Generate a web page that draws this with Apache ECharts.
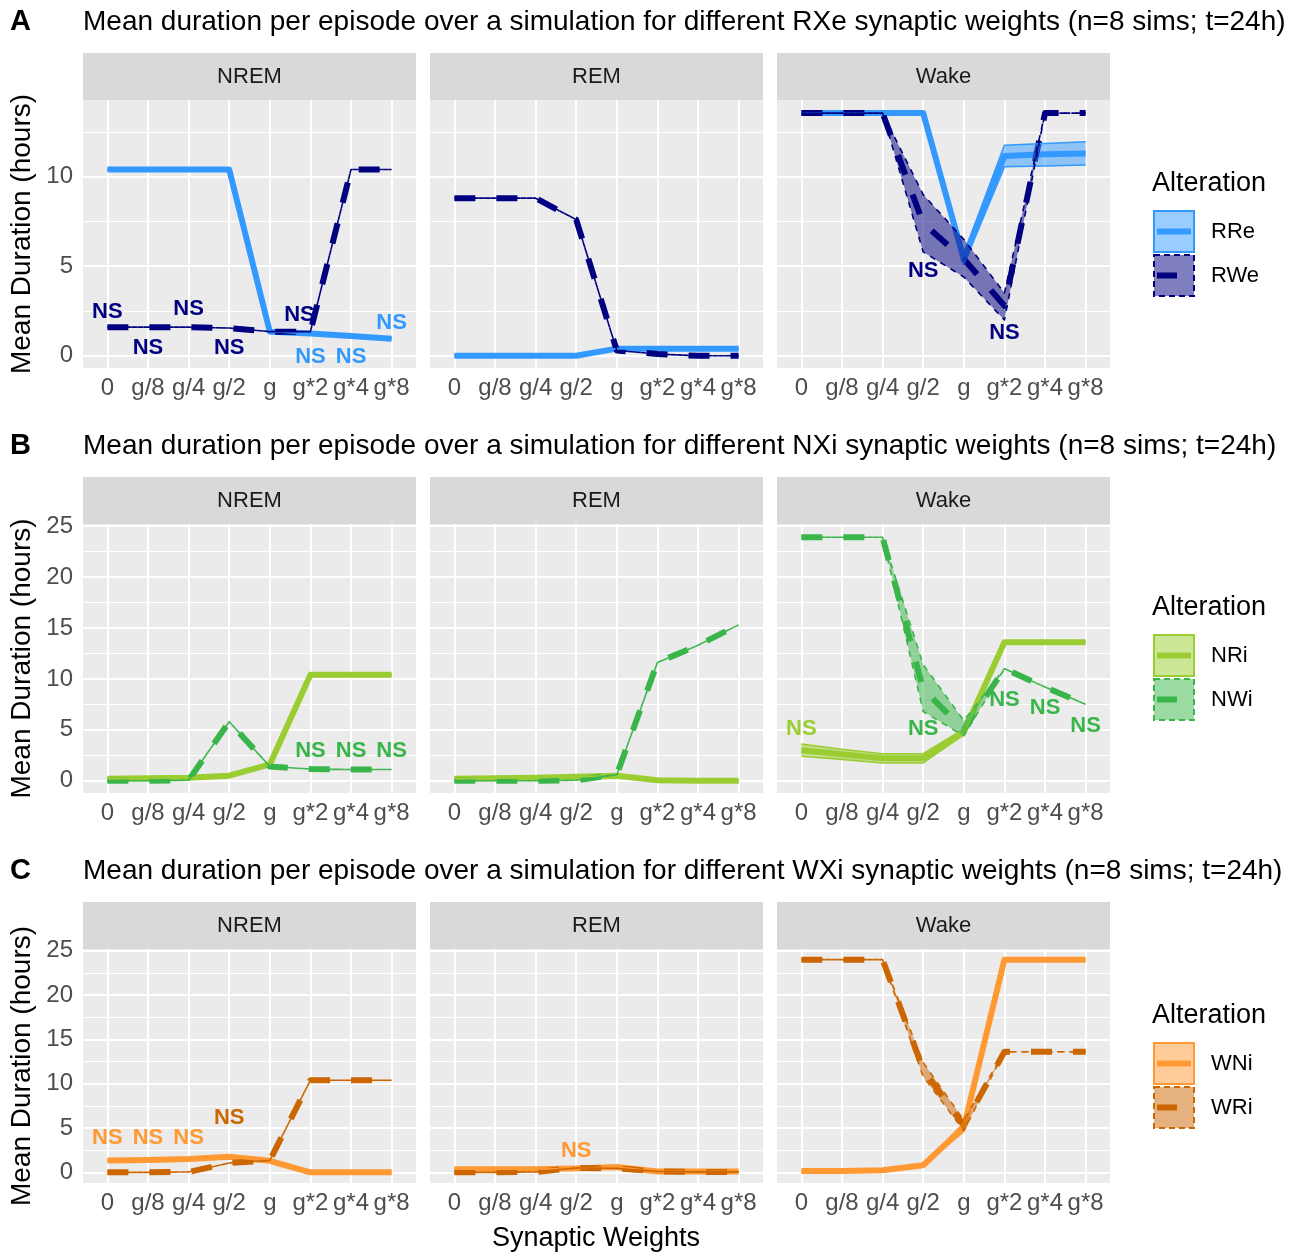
<!DOCTYPE html>
<html><head><meta charset="utf-8">
<script src="https://cdn.jsdelivr.net/npm/echarts@6/dist/echarts.min.js"></script>
<style>html,body{margin:0;padding:0;background:#fff}#c{width:1302px;height:1256px}</style>
</head><body><div id="c"></div>
<script>
// ---------- data ----------
const categories = ['0','g/8','g/4','g/2','g','g*2','g*4','g*8'];
const facets = ['NREM','REM','Wake'];
const yTicksA = [0,5,10];
const yMinorA = [2.5,7.5,12.5];
const yTicksBC = [0,5,10,15,20,25];
const yMinorBC = [2.5,7.5,12.5,17.5,22.5];

// Row A: RXe
const rxeNremRRe = [10.4,10.4,10.4,10.4,1.35,1.25,1.1,0.95];
const rxeNremRWe = [1.6,1.6,1.6,1.55,1.35,1.35,10.4,10.4];
const rxeRemRRe  = [0.0,0.0,0.0,0.0,0.4,0.4,0.4,0.4];
const rxeRemRWe  = [8.8,8.8,8.8,7.6,0.3,0.1,0.0,0.0];
const rxeWakeRRe   = [13.55,13.55,13.55,13.55,5.4,11.15,11.25,11.3];
const rxeWakeRReLo = [13.55,13.55,13.55,13.55,5.1,10.55,10.6,10.65];
const rxeWakeRReHi = [13.55,13.55,13.55,13.55,5.7,11.75,11.85,11.95];
const rxeWakeRWe   = [13.55,13.55,13.55,7.4,5.4,2.8,13.55,13.55];
const rxeWakeRWeLo = [13.55,13.55,13.55,5.8,4.4,2.0,13.55,13.55];
const rxeWakeRWeHi = [13.55,13.55,13.55,9.0,6.5,3.5,13.55,13.55];

// Row B: NXi
const nxiNremNRi = [0.2,0.25,0.3,0.5,1.6,10.4,10.4,10.4];
const nxiNremNWi = [0.0,0.0,0.05,5.8,1.4,1.15,1.1,1.1];
const nxiRemNRi  = [0.2,0.25,0.3,0.4,0.5,0.05,0.0,0.0];
const nxiRemNWi  = [0.0,0.0,0.0,0.05,0.6,11.6,13.3,15.3];
const nxiWakeNRi   = [3.0,2.6,2.2,2.2,4.8,13.6,13.6,13.6];
const nxiWakeNRiLo = [2.4,2.1,1.75,1.75,4.5,13.6,13.6,13.6];
const nxiWakeNRiHi = [3.6,3.1,2.65,2.65,5.1,13.6,13.6,13.6];
const nxiWakeNWi   = [23.9,23.9,23.9,9.0,5.0,11.0,9.2,7.5];
const nxiWakeNWiLo = [23.9,23.9,23.9,6.8,4.4,11.0,9.2,7.5];
const nxiWakeNWiHi = [23.9,23.9,23.9,11.4,5.9,11.0,9.2,7.5];

// Row C: WXi
const wxiNremWNi = [1.35,1.4,1.5,1.75,1.3,0.0,0.0,0.0];
const wxiNremWRi = [0.0,0.0,0.05,1.05,1.35,10.4,10.4,10.4];
const wxiRemWNi  = [0.35,0.35,0.35,0.45,0.6,0.1,0.1,0.1];
const wxiRemWRi  = [0.0,0.0,0.05,0.5,0.45,0.1,0.05,0.05];
const wxiWakeWNi   = [0.15,0.15,0.25,0.8,5.1,24.0,24.0,24.0];
const wxiWakeWNiLo = [0.15,0.15,0.25,0.8,4.6,24.0,24.0,24.0];
const wxiWakeWNiHi = [0.15,0.15,0.25,0.8,5.6,24.0,24.0,24.0];
const wxiWakeWRi   = [24.0,24.0,24.0,11.6,5.3,13.6,13.6,13.6];
const wxiWakeWRiLo = [24.0,24.0,24.0,10.8,4.7,13.6,13.6,13.6];
const wxiWakeWRiHi = [24.0,24.0,24.0,12.4,5.9,13.6,13.6,13.6];

// "NS" annotations: [x index, y value]
const nsRxeNremRWe = [[0,2.46],[1,0.45],[2,2.63],[3,0.45],[4.73,2.29]];
const nsRxeNremRRe = [[5,-0.06],[6,-0.06],[7,1.84]];
const nsRxeWakeRWe = [[3,4.75],[5,1.3]];
const nsNxiNremNWi = [[5,2.95],[6,2.95],[7,2.95]];
const nsNxiWakeNRi = [[0,5.1]];
const nsNxiWakeNWi = [[3,5.1],[5,7.9],[6,7.1],[7,5.4]];
const nsWxiNremWNi = [[0,3.9],[1,3.9],[2,3.9]];
const nsWxiNremWRi = [[3,6.1]];
const nsWxiRemWNi  = [[3,2.45]];

// ---------- layout / style ----------
const FONT = "'Liberation Sans', Arial, Helvetica, sans-serif";
const colLeft = [83, 430, 777];
const panelW = 333;
const rowTop = [100, 524, 949];
const rowH = [268, 269, 234];
const stripH = 47;

const rows = [
  { letter:'A', title:'Mean duration per episode over a simulation for different RXe synaptic weights (n=8 sims; t=24h)',
    names:['RRe','RWe'], colors:['#3399FF','#000080'], yr:[-0.68,14.28], ticks:yTicksA, minor:yMinorA,
    panels:[
      {s:[{m:rxeNremRRe},{m:rxeNremRWe}], ns:[[nsRxeNremRWe,1],[nsRxeNremRRe,0]]},
      {s:[{m:rxeRemRRe},{m:rxeRemRWe}], ns:[]},
      {s:[{m:rxeWakeRRe,lo:rxeWakeRReLo,hi:rxeWakeRReHi},{m:rxeWakeRWe,lo:rxeWakeRWeLo,hi:rxeWakeRWeHi}], ns:[[nsRxeWakeRWe,1]]}
    ], legendY:184 },
  { letter:'B', title:'Mean duration per episode over a simulation for different NXi synaptic weights (n=8 sims; t=24h)',
    names:['NRi','NWi'], colors:['#9ACD32','#39B54A'], yr:[-1.2,25.2], ticks:yTicksBC, minor:yMinorBC,
    panels:[
      {s:[{m:nxiNremNRi},{m:nxiNremNWi}], ns:[[nsNxiNremNWi,1]]},
      {s:[{m:nxiRemNRi},{m:nxiRemNWi}], ns:[]},
      {s:[{m:nxiWakeNRi,lo:nxiWakeNRiLo,hi:nxiWakeNRiHi},{m:nxiWakeNWi,lo:nxiWakeNWiLo,hi:nxiWakeNWiHi}], ns:[[nsNxiWakeNRi,0],[nsNxiWakeNWi,1]]}
    ], legendY:608 },
  { letter:'C', title:'Mean duration per episode over a simulation for different WXi synaptic weights (n=8 sims; t=24h)',
    names:['WNi','WRi'], colors:['#FF9933','#CC6600'], yr:[-1.2,25.2], ticks:yTicksBC, minor:yMinorBC,
    panels:[
      {s:[{m:wxiNremWNi},{m:wxiNremWRi}], ns:[[nsWxiNremWNi,0],[nsWxiNremWRi,1]]},
      {s:[{m:wxiRemWNi},{m:wxiRemWRi}], ns:[[nsWxiRemWNi,0]]},
      {s:[{m:wxiWakeWNi,lo:wxiWakeWNiLo,hi:wxiWakeWNiHi},{m:wxiWakeWRi,lo:wxiWakeWRiLo,hi:wxiWakeWRiHi}], ns:[]}
    ], legendY:1016 }
];

function rgba(hex, a){
  const n = parseInt(hex.slice(1),16);
  return 'rgba('+((n>>16)&255)+','+((n>>8)&255)+','+(n&255)+','+a+')';
}
const xIdx = categories.map((c,i)=>i);
const pairs = arr => arr.map((v,i)=>[i,v]);

// ribbon drawn through the axes' coordinate mapping (api.coord)
function ribbonRender(col, dashed){
  return function(params, api){
    if (params.dataIndexInside !== 0) return null;
    const n = params.dataInsideLength || categories.length;
    const up = [], dn = [];
    for (let i = 0; i < n; i++){
      const x = api.value(0, i), lo = api.value(1, i), hi = api.value(2, i);
      up.push(api.coord([x, hi]));
      dn.push(api.coord([x, lo]));
    }
    const poly = up.concat(dn.slice().reverse());
    return {type:'group', children:[
      {type:'polygon', shape:{points:poly}, style:{fill:rgba(col,0.5), stroke:null}},
      {type:'polyline', shape:{points:up}, style:{stroke:col, lineWidth:1.6, fill:null, lineDash: dashed?[6,6]:null, lineDashOffset:0, lineJoin:'round'}},
      {type:'polyline', shape:{points:dn}, style:{stroke:col, lineWidth:1.6, fill:null, lineDash: dashed?[6,6]:null, lineDashOffset:6, lineJoin:'round'}}
    ]};
  };
}

const grids=[], xAxes=[], yAxes=[], series=[], graphics=[];
let g = 0;
rows.forEach((row, r) => {
  const top = rowTop[r], h = rowH[r];
  graphics.push({type:'text', x:10, y:top-78, style:{text:row.letter, fontSize:29, fontWeight:'bold', fontFamily:FONT, fill:'#000', textAlign:'left', textVerticalAlign:'middle', align:'left', verticalAlign:'middle'}});
  graphics.push({type:'text', x:83, y:top-78, style:{text:row.title, fontSize:28, fontFamily:FONT, fill:'#000', textAlign:'left', textVerticalAlign:'middle', align:'left', verticalAlign:'middle'}});
  graphics.push({type:'text', x:22, y:top+h/2, rotation:Math.PI/2, style:{text:'Mean Duration (hours)', fontSize:28, fontFamily:FONT, fill:'#000', textAlign:'center', textVerticalAlign:'middle', align:'center', verticalAlign:'middle'}});
  const ly = row.legendY;
  graphics.push({type:'text', x:1152, y:ly, style:{text:'Alteration', fontSize:27, fontFamily:FONT, fill:'#000', textAlign:'left', textVerticalAlign:'middle', align:'left', verticalAlign:'middle'}});
  [0,1].forEach(k => {
    const by = ly + 27 + k*44;
    const col = row.colors[k];
    graphics.push({type:'rect', shape:{x:1154, y:by, width:40, height:41}, style:{fill:rgba(col,0.5), stroke:col, lineWidth:2, lineDash: k? [6,4] : null}});
    graphics.push({type:'line', shape:{x1:1157, y1:by+20.5, x2: k? 1177 : 1191, y2:by+20.5}, style:{stroke:col, lineWidth:6}});
    graphics.push({type:'text', x:1211, y:by+21, style:{text:row.names[k], fontSize:22, fontFamily:FONT, fill:'#000', textAlign:'left', textVerticalAlign:'middle', align:'left', verticalAlign:'middle'}});
  });

  row.panels.forEach((p, c) => {
    const left = colLeft[c];
    graphics.push({type:'rect', shape:{x:left, y:top-stripH, width:panelW, height:stripH}, style:{fill:'#D9D9D9'}});
    graphics.push({type:'text', x:left+panelW/2, y:top-stripH/2, style:{text:facets[c], fontSize:22, fontFamily:FONT, fill:'#1A1A1A', textAlign:'center', textVerticalAlign:'middle', align:'center', verticalAlign:'middle'}});

    grids.push({left:left, top:top, width:panelW, height:h, show:true, backgroundColor:'#EBEBEB', borderWidth:0, containLabel:false, outerBoundsMode:'none'});
    xAxes.push({gridIndex:g, type:'value', min:-0.6, max:7.6,
      axisLine:{show:false}, splitLine:{show:false},
      axisTick:{show:true, customValues:xIdx, length:5, lineStyle:{color:'#333333', width:2}},
      axisLabel:{show:true, customValues:xIdx, formatter:v=>categories[Math.round(v)], color:'#4D4D4D', fontSize:24, fontFamily:FONT, margin:8}});
    yAxes.push({gridIndex:g, type:'value', min:row.yr[0], max:row.yr[1],
      axisLine:{show:false}, splitLine:{show:false},
      axisTick:{show:c===0, customValues:row.ticks, length:5, lineStyle:{color:'#333333', width:2}},
      axisLabel:{show:c===0, customValues:row.ticks, color:'#4D4D4D', fontSize:24, fontFamily:FONT, margin:10}});

    const ml = [];
    row.minor.forEach(v => ml.push({yAxis:v, lineStyle:{color:'#FFFFFF', width:1.1, type:'solid'}}));
    row.ticks.forEach(v => ml.push({yAxis:v, lineStyle:{color:'#FFFFFF', width:2, type:'solid'}}));
    xIdx.forEach(v => ml.push({xAxis:v, lineStyle:{color:'#FFFFFF', width:2, type:'solid'}}));
    series.push({type:'line', xAxisIndex:g, yAxisIndex:g, data:[[0,row.yr[0]]], symbol:'none', silent:true, z:1,
      lineStyle:{opacity:0},
      markLine:{silent:true, z:1, symbol:['none','none'], label:{show:false}, emphasis:{disabled:true}, animation:false, data:ml}});

    p.s.forEach((s, k) => {
      const col = row.colors[k];
      series.push({type:'line', name:row.names[k], xAxisIndex:g, yAxisIndex:g, data:pairs(s.m), symbol:'none', silent:true, z:2,
        lineStyle:{color:col, width:6, type: k? [21,21] : 'solid', cap:'butt', join:'round'}});
    });
    p.s.forEach((s, k) => {
      const col = row.colors[k];
      const lo = s.lo || s.m, hi = s.hi || s.m;
      series.push({type:'custom', xAxisIndex:g, yAxisIndex:g, silent:true, z:3, clip:true,
        data: s.m.map((v,i)=>[i, lo[i], hi[i]]),
        encode:{x:0, y:[1,2]},
        renderItem: ribbonRender(col, k===1)});
    });
    p.ns.forEach(([arr, k]) => {
      series.push({type:'scatter', xAxisIndex:g, yAxisIndex:g, data:arr, symbolSize:1, silent:true, z:4,
        itemStyle:{color:'rgba(0,0,0,0)', opacity:1},
        label:{show:true, formatter:'NS', position:'inside', color:row.colors[k], opacity:1, fontSize:22, fontWeight:'bold', fontFamily:FONT}});
    });
    g++;
  });
});
graphics.push({type:'text', x:596, y:1239, style:{text:'Synaptic Weights', fontSize:27, fontFamily:FONT, fill:'#000', textAlign:'center', textVerticalAlign:'middle', align:'center', verticalAlign:'middle'}});

const chart = echarts.init(document.getElementById('c'), null, {renderer:'canvas'});
chart.setOption({
  animation:false,
  backgroundColor:'#FFFFFF',
  grid:grids, xAxis:xAxes, yAxis:yAxes, series:series,
  graphic:{elements:graphics}
});
</script></body></html>
